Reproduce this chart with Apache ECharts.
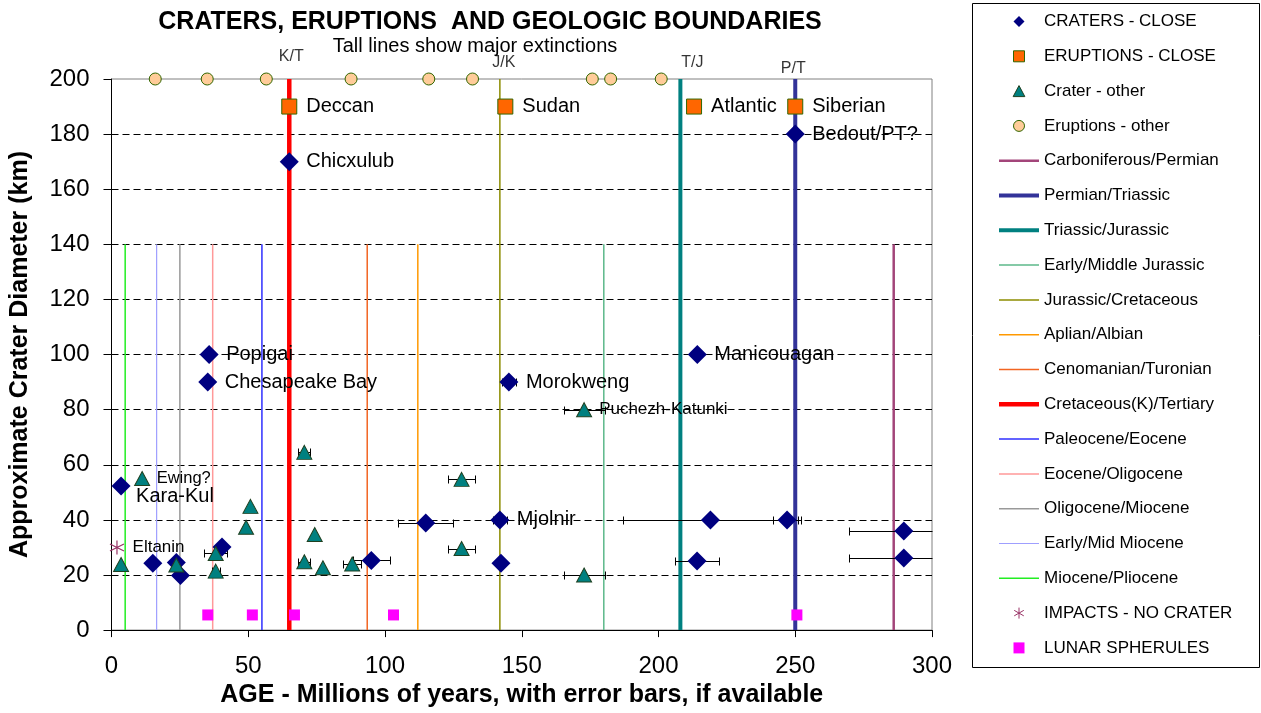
<!DOCTYPE html>
<html><head><meta charset="utf-8">
<script src="https://cdn.jsdelivr.net/npm/echarts@6/dist/echarts.min.js"></script>
<style>html,body{margin:0;padding:0;background:#fff}#c{width:1261px;height:713px}</style>
</head><body><div id="c"></div>
<script>
// ---------------- DATA ----------------
const craterAge  = [65, 250, 35.7, 35.2, 145.3, 214.2, 142, 3.5, 15.1, 23.7, 25.2, 40.4, 114.9, 95, 142.4, 219, 247, 214.1, 289.7, 289.7];
const craterDiam = [170, 180, 100, 90, 90, 100, 40, 52.3, 24.3, 24.5, 19.8, 30.2, 38.9, 25.3, 24.3, 40, 40, 25.1, 36, 26.2];
const craterErr  = [0, 0, 0, 0, 2.5, 0, 2.5, 0, 0, 0, 0, 0, 10, 6.7, 0, 32, 5.2, 8, 20, 20];
const craterName = ['Chicxulub', 'Bedout/PT?', 'Popigai', 'Chesapeake Bay', 'Morokweng', 'Manicouagan', 'Mjolnir', 'Kara-Kul',
                    '', '', '', '', '', '', '', '', '', '', '', ''];

const eruptAge  = [65, 144, 213, 250];
const eruptDiam = [190, 190, 190, 190];
const eruptName = ['Deccan', 'Sudan', 'Atlantic', 'Siberian'];

const otherAge  = [11.2, 3.5, 23.7, 50.8, 49.2, 38.1, 38.1, 70.5, 74.3, 70.5, 77.3, 88, 128, 128, 172.8, 172.8];
const otherDiam = [55, 23.8, 23.6, 44.9, 37.3, 27.8, 21.4, 64.5, 34.7, 24.8, 22.6, 24, 54.7, 29.6, 80, 20];
const otherErr  = [0, 0, 0, 0, 0, 4.3, 1.5, 2.2, 0, 2.2, 0, 3.3, 5, 5, 7.5, 7.5];
const otherName = ['Ewing?', '', '', '', '', '', '', '', '', '', '', '', '', '', 'Puchezh-Katunki', ''];

const eruptOtherAge  = [16, 35, 56.6, 87.6, 116, 132, 175.8, 182.5, 201];
const eruptOtherDiam = [200, 200, 200, 200, 200, 200, 200, 200, 200];

const impactAge  = [2];
const impactDiam = [30];
const impactName = ['Eltanin'];

const lunarAge  = [35.2, 51.5, 66.9, 103.1, 250.6];
const lunarDiam = [5.5, 5.5, 5.5, 5.5, 5.5];

const boundaryName = ['Carboniferous/Permian', 'Permian/Triassic', 'Triassic/Jurassic', 'Early/Middle Jurassic',
  'Jurassic/Cretaceous', 'Aplian/Albian', 'Cenomanian/Turonian', 'Cretaceous(K)/Tertiary', 'Paleocene/Eocene',
  'Eocene/Oligocene', 'Oligocene/Miocene', 'Early/Mid Miocene', 'Miocene/Pliocene'];
const boundaryAge = [286, 250, 208, 180, 142, 112, 93.5, 65, 55, 37, 25, 16.5, 5];
const boundaryTop = [140, 200, 200, 140, 200, 140, 140, 200, 140, 140, 140, 140, 140];
const boundaryTag = ['', 'P/T', 'T/J', '', 'J/K', '', '', 'K/T', '', '', '', '', ''];

// ---------------- STYLE ----------------
const FONT = "'Liberation Sans', Arial, sans-serif";
const boundaryStyle = {
  'Carboniferous/Permian': ['#a3457a', 2.5],
  'Permian/Triassic': ['#333399', 4],
  'Triassic/Jurassic': ['#008080', 4],
  'Early/Middle Jurassic': ['#5cb88a', 1.5],
  'Jurassic/Cretaceous': ['#8c8c00', 1.5],
  'Aplian/Albian': ['#FF9900', 1.5],
  'Cenomanian/Turonian': ['#F26522', 1.5],
  'Cretaceous(K)/Tertiary': ['#FF0000', 4.5],
  'Paleocene/Eocene': ['#2f2fff', 1.5],
  'Eocene/Oligocene': ['#FF9999', 1.5],
  'Oligocene/Miocene': ['#999999', 1.5],
  'Early/Mid Miocene': ['#9f9fff', 1.2],
  'Miocene/Pliocene': ['#22ee22', 1.5]
};
const tagLabel = {
  'K/T': {distance: 13.7, offset: [2, 0]},
  'J/K': {distance: 7.7, offset: [4, 0]},
  'T/J': {distance: 7.7, offset: [12, 0]},
  'P/T': {distance: 1.7, offset: [-2, 0]}
};
const labelTweak = {
  'Kara-Kul': {distance: 5.5, offset: [0, 10]},
  'Ewing?': {fontSize: 16.5, distance: 6.5},
  'Puchezh-Katunki': {fontSize: 17, distance: 7},
  'Eltanin': {fontSize: 17, distance: 8}
};
const legendIcons = {
  'CRATERS - CLOSE': 'path://M5,0L10,5L5,10L0,5Z',
  'ERUPTIONS - CLOSE': 'path://M0,0H10V10H0Z',
  'Crater - other': 'path://M5,0L10,9.4H0Z',
  'Eruptions - other': 'path://M5,0A5,5,0,1,1,5,10A5,5,0,1,1,5,0Z',
  'IMPACTS - NO CRATER': 'path://M10,0L10,20M1.3,5L18.7,15M1.3,15L18.7,5',
  'LUNAR SPHERULES': 'path://M0,0H10V10H0Z'
};
const legendBorder = {'ERUPTIONS - CLOSE': 1, 'Crater - other': 1, 'Eruptions - other': 1, 'IMPACTS - NO CRATER': 1};

function pts(ages, vals, names) {
  return ages.map((a, i) => {
    const o = {value: [a, vals[i]], name: names ? names[i] : ''};
    if (names && labelTweak[names[i]]) o.label = labelTweak[names[i]];
    return o;
  });
}
function errs(ages, vals, e) {
  const out = [];
  ages.forEach((a, i) => { if (e[i] > 0) out.push([a, vals[i], e[i]]); });
  return out;
}
const XMIN = 0, XMAX = 300;

const baseLabel = {show: true, position: 'right', formatter: '{b}', color: '#000', fontFamily: FONT, fontSize: 20};

const series = [];
boundaryName.forEach((n, i) => {
  const st = boundaryStyle[n];
  series.push({
    type: 'line', name: n, data: [[boundaryAge[i], 0], [boundaryAge[i], boundaryTop[i]]],
    symbol: 'none', showSymbol: false, silent: true, z: 1,
    lineStyle: {color: st[0], width: st[1]}, itemStyle: {color: st[0]}
  });
});
// tall boundary tags
series.push({
  type: 'scatter', name: '_tags', symbolSize: 1, z: 5, clip: false, silent: true,
  itemStyle: {color: 'rgba(0,0,0,0)'},
  label: {show: true, position: 'top', formatter: '{b}', color: '#000', fontFamily: FONT, fontSize: 16},
  data: boundaryAge.map((a, i) => ({value: [a, boundaryTop[i]], name: boundaryTag[i]}))
    .filter(d => d.name)
    .map(d => Object.assign(d, {label: tagLabel[d.name]}))
});
// error bars
series.push({
  type: 'custom', name: '_err', z: 2, silent: true,
  encode: {x: 0, y: 1},
  data: errs(craterAge, craterDiam, craterErr).concat(errs(otherAge, otherDiam, otherErr)),
  renderItem: function (params, api) {
    const x = api.value(0), y = api.value(1), e = api.value(2);
    const lo = Math.max(x - e, XMIN), hi = Math.min(x + e, XMAX);
    const p1 = api.coord([lo, y]), p2 = api.coord([hi, y]);
    const yy = Math.round(p1[1]) + 0.5;
    const x1 = Math.round(p1[0]) + 0.5, x2 = Math.round(p2[0]) + 0.5;
    const st = {stroke: '#000', lineWidth: 1};
    const ch = [{type: 'line', shape: {x1: x1, y1: yy, x2: x2, y2: yy}, style: st}];
    if (x - e >= XMIN) ch.push({type: 'line', shape: {x1: x1, y1: yy - 4, x2: x1, y2: yy + 4}, style: st});
    if (x + e <= XMAX) ch.push({type: 'line', shape: {x1: x2, y1: yy - 4, x2: x2, y2: yy + 4}, style: st});
    return {type: 'group', children: ch};
  }
});
series.push({
  type: 'scatter', name: 'CRATERS - CLOSE', symbol: 'diamond', symbolSize: 19, z: 4, clip: false,
  itemStyle: {color: '#000080', opacity: 1},
  label: Object.assign({}, baseLabel, {distance: 7.5}),
  data: pts(craterAge, craterDiam, craterName)
});
series.push({
  type: 'scatter', name: 'ERUPTIONS - CLOSE', symbol: 'rect', symbolSize: 15, z: 4, clip: false,
  itemStyle: {color: '#FF6600', borderColor: '#336600', borderWidth: 1, opacity: 1},
  label: Object.assign({}, baseLabel, {distance: 9}),
  data: pts(eruptAge, eruptDiam, eruptName)
});
series.push({
  type: 'scatter', name: 'Crater - other', symbol: 'triangle', symbolSize: [15, 14], z: 4, clip: false,
  itemStyle: {color: '#008080', borderColor: '#1f4020', borderWidth: 1, opacity: 1},
  label: Object.assign({}, baseLabel, {distance: 6.5}),
  data: pts(otherAge, otherDiam, otherName)
});
series.push({
  type: 'scatter', name: 'Eruptions - other', symbol: 'circle', symbolSize: 12, z: 4, clip: false,
  itemStyle: {color: '#FFCC99', borderColor: '#336600', borderWidth: 1, opacity: 1},
  data: pts(eruptOtherAge, eruptOtherDiam, null)
});
series.push({
  type: 'scatter', name: 'IMPACTS - NO CRATER', symbol: 'path://M10,0L10,20M1.3,5L18.7,15M1.3,15L18.7,5', symbolSize: 14, z: 4, clip: false,
  itemStyle: {color: 'rgba(0,0,0,0)', borderColor: '#993366', borderWidth: 1.2, opacity: 1},
  label: Object.assign({}, baseLabel, {distance: 8}),
  data: pts(impactAge, impactDiam, impactName)
});
series.push({
  type: 'scatter', name: 'LUNAR SPHERULES', symbol: 'rect', symbolSize: 11, z: 4, clip: false,
  itemStyle: {color: '#FF00FF', opacity: 1},
  data: pts(lunarAge, lunarDiam, null)
});

const legendOrder = ['CRATERS - CLOSE', 'ERUPTIONS - CLOSE', 'Crater - other', 'Eruptions - other']
  .concat(boundaryName).concat(['IMPACTS - NO CRATER', 'LUNAR SPHERULES']);
const legendData = legendOrder.map(n => {
  if (legendIcons[n]) {
    return {name: n, icon: legendIcons[n], itemStyle: {borderWidth: legendBorder[n] || 0}};
  }
  const w = boundaryStyle[n][1];
  return {name: n, icon: 'path://M0,0H40V' + w + 'H0Z', itemStyle: {borderWidth: 0, color: boundaryStyle[n][0]}};
});

const chart = echarts.init(document.getElementById('c'), null, {renderer: 'canvas'});
chart.setOption({
  animation: false,
  backgroundColor: '#fff',
  textStyle: {fontFamily: FONT},
  grid: {left: 111, right: 329, top: 79, bottom: 77, show: true, borderColor: '#808080', borderWidth: 1},
  xAxis: {
    type: 'value', min: XMIN, max: XMAX, interval: 50,
    axisLine: {show: true, onZero: false, lineStyle: {color: '#000', width: 1}},
    axisTick: {show: true, length: 7, lineStyle: {color: '#000'}},
    axisLabel: {fontSize: 24, color: '#000', margin: 24, fontFamily: FONT},
    splitLine: {show: false},
    name: 'AGE - Millions of years, with error bars, if available',
    nameLocation: 'middle', nameGap: 48.5,
    nameTextStyle: {fontSize: 25, fontWeight: 'bold', color: '#000', fontFamily: FONT}
  },
  yAxis: {
    type: 'value', min: 0, max: 200, interval: 20,
    axisLine: {show: true, onZero: false, lineStyle: {color: '#000', width: 1}},
    axisTick: {show: true, length: 8, lineStyle: {color: '#000'}},
    axisLabel: {fontSize: 24, color: '#000', margin: 22, fontFamily: FONT},
    splitLine: {show: true, showMinLine: false, showMaxLine: false, lineStyle: {color: '#000', type: [7, 4], width: 1}},
    name: 'Approximate Crater Diameter (km)',
    nameLocation: 'middle', nameGap: 78.5,
    nameTextStyle: {fontSize: 25, fontWeight: 'bold', color: '#000', fontFamily: FONT}
  },
  legend: {
    orient: 'vertical', left: 999, top: 11.5, padding: 0,
    itemWidth: 40, itemHeight: 11, itemGap: 14.8, selectedMode: false,
    textStyle: {fontSize: 17, color: '#000', fontFamily: FONT, lineHeight: 20},
    data: legendData
  },
  graphic: [
    {type: 'rect', silent: true, shape: {x: 972.5, y: 3.5, width: 287, height: 664}, style: {fill: 'none', stroke: '#000', lineWidth: 1}},
    {type: 'text', silent: true, x: 490, y: 22.5, style: {text: 'CRATERS, ERUPTIONS  AND GEOLOGIC BOUNDARIES', font: 'bold 25px ' + FONT, fill: '#000', align: 'center', verticalAlign: 'middle'}},
    {type: 'text', silent: true, x: 475, y: 46, style: {text: 'Tall lines show major extinctions', font: '20px ' + FONT, fill: '#000', align: 'center', verticalAlign: 'middle'}}
  ],
  series: series
});
</script></body></html>
